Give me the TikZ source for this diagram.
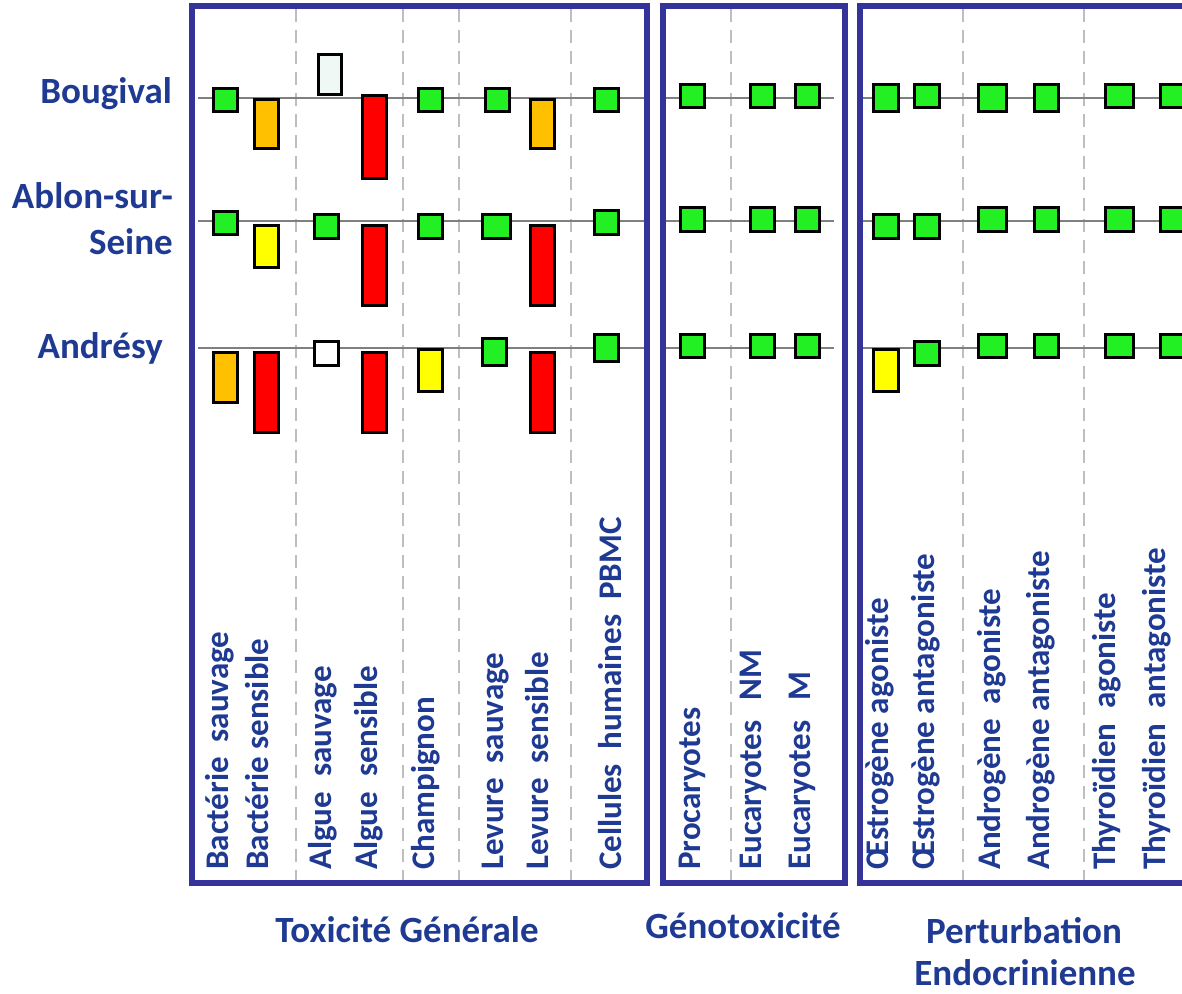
\documentclass[tikz,border=0pt]{standalone}
\usepackage{fontspec}
\setmainfont{Carlito}
\definecolor{boxblue}{RGB}{51,51,153}
\definecolor{textblue}{RGB}{31,58,147}
\definecolor{sepgray}{RGB}{190,190,190}
\definecolor{rowgray}{RGB}{128,128,128}
\definecolor{cgreen}{RGB}{34,240,34}
\definecolor{corange}{RGB}{255,192,0}
\definecolor{cyellow}{RGB}{255,255,0}
\definecolor{cred}{RGB}{255,0,0}
\definecolor{cpale}{RGB}{240,248,246}
\newcommand\cellnode[6]{\node[cellbox, fill=#6, minimum width=#5-3, minimum height=#4-#3-3] (#1) at (#2,{(#3+#4)/2}) {};}
\begin{document}
\begin{tikzpicture}[x=1pt,y=-1pt,
  frame/.style={draw=boxblue, line width=6pt},
  sepline/.style={draw=sepgray, line width=2.2pt, dash pattern=on 13pt off 8pt},
  rowline/.style={draw=rowgray, line width=2pt},
  cellbox/.style={draw=black, line width=3pt, inner sep=0pt, outer sep=0pt, rectangle},
  collab/.style={rotate=90, anchor=base west, text=textblue, inner sep=0pt, font=\fontsize{33}{40}\selectfont\bfseries},
  rowlab/.style={anchor=base east, text=textblue, inner sep=0pt, font=\fontsize{37}{44}\selectfont\bfseries},
  grouplab/.style={anchor=base, text=textblue, inner sep=0pt, font=\fontsize{37}{44}\selectfont\bfseries}]
\useasboundingbox (0,0) rectangle (1182,993);
\clip (0,0) rectangle (1182,993);
\fill[white] (0,0) rectangle (1182,993);

% dashed separators
\foreach \xx/\nm in {296/s1,403/s2,459/s3,571/s4,731/s5,963/s6,1084/s7}{
  \coordinate (\nm t) at (\xx,9);
  \coordinate (\nm b) at (\xx,880);
  \draw[sepline] (\nm t) -- (\nm b);
}

% row lines
\foreach \yy/\r in {98/1,221/2,348/3}{
  \coordinate (aL\r) at (198,\yy); \coordinate (aR\r) at (646,\yy);
  \coordinate (bL\r) at (662,\yy); \coordinate (bR\r) at (834,\yy);
  \coordinate (cL\r) at (862,\yy); \coordinate (cR\r) at (1182,\yy);
  \draw[rowline] (aL\r) -- (aR\r);
  \draw[rowline] (bL\r) -- (bR\r);
  \draw[rowline] (cL\r) -- (cR\r);
}

% frames
\coordinate (f1a) at (192,6); \coordinate (f1b) at (647,883);
\coordinate (f2a) at (662.5,6); \coordinate (f2b) at (844.5,883);
\coordinate (f3a) at (860,6); \coordinate (f3b) at (1200,883);
\draw[frame] (f1a) rectangle (f1b);
\draw[frame] (f2a) rectangle (f2b);
\draw[frame] (f3a) rectangle (f3b);

% Box 1, row 1
\cellnode{a11}{225.7}{87}{113}{27}{cgreen}
\cellnode{a21}{266.7}{98}{150}{26.5}{corange}
\cellnode{a31}{330}{53}{96}{26.5}{cpale}
\cellnode{a41}{374.8}{94}{180}{27}{cred}
\cellnode{a51}{430.8}{87}{113}{27}{cgreen}
\cellnode{a61}{497.7}{87}{113}{27}{cgreen}
\cellnode{a71}{542.7}{98}{150}{27}{corange}
\cellnode{a81}{606}{87}{113}{27}{cgreen}
% Box 1, row 2
\cellnode{a12}{225.7}{210}{236}{27}{cgreen}
\cellnode{a22}{266.7}{224}{269}{26.5}{cyellow}
\cellnode{a32}{326.7}{213}{240}{27}{cgreen}
\cellnode{a42}{374.8}{224}{307}{27}{cred}
\cellnode{a52}{430.8}{213}{240}{27}{cgreen}
\cellnode{a62}{496.3}{213}{240}{31}{cgreen}
\cellnode{a72}{542.7}{224}{307}{27}{cred}
\cellnode{a82}{606}{209}{236}{27}{cgreen}
% Box 1, row 3
\cellnode{a13}{225.7}{351}{404}{27}{corange}
\cellnode{a23}{266.7}{351}{434}{26.5}{cred}
\cellnode{a33}{326.7}{340}{367}{27}{white}
\cellnode{a43}{374.8}{351}{434}{27}{cred}
\cellnode{a53}{430.8}{348}{393}{27}{cyellow}
\cellnode{a63}{494.3}{337}{367}{27}{cgreen}
\cellnode{a73}{542.7}{351}{434}{27}{cred}
\cellnode{a83}{606}{333}{363}{27}{cgreen}

% Box 2
\foreach \xx/\c in {692/1,762.6/2,807.6/3}{
  \cellnode{b\c1}{\xx}{83}{109}{27}{cgreen}
  \cellnode{b\c2}{\xx}{206}{233}{27}{cgreen}
  \cellnode{b\c3}{\xx}{333}{359}{27}{cgreen}
}

% Box 3
\cellnode{c11}{886}{83}{113}{27.5}{cgreen}
\cellnode{c12}{886}{213}{240}{27.5}{cgreen}
\cellnode{c13}{886}{348}{393}{27.5}{cyellow}
\cellnode{c21}{927}{83}{109}{27.5}{cgreen}
\cellnode{c22}{927}{213}{240}{27.5}{cgreen}
\cellnode{c23}{927}{340}{367}{27.5}{cgreen}
\cellnode{c31}{992}{83}{113}{31}{cgreen}
\cellnode{c32}{992}{206}{233}{31}{cgreen}
\cellnode{c33}{992}{333}{359}{31}{cgreen}
\cellnode{c41}{1046}{83}{113}{27}{cgreen}
\cellnode{c42}{1046}{206}{233}{27}{cgreen}
\cellnode{c43}{1046}{333}{359}{27}{cgreen}
\cellnode{c51}{1119}{83}{109}{31}{cgreen}
\cellnode{c52}{1119}{206}{233}{31}{cgreen}
\cellnode{c53}{1119}{333}{359}{31}{cgreen}
\cellnode{c61}{1174.5}{83}{109}{31}{cgreen}
\cellnode{c62}{1174.5}{206}{233}{31}{cgreen}
\cellnode{c63}{1174.5}{333}{359}{31}{cgreen}

% row labels
\node[rowlab] (lbou) at (172,103) {Bougival};
\node[rowlab] (labl1) at (173,208) {Ablon-sur-};
\node[rowlab] (labl2) at (173,254) {Seine};
\node[rowlab] (land) at (163,358) {Andrésy};

% column labels
\node[collab] (t1) at (228,870) {Bactérie\ \ sauvage};
\node[collab] (t2) at (268,870) {Bactérie sensible};
\node[collab] (t3) at (331,870) {Algue\ \ sauvage};
\node[collab] (t4) at (377,870) {Algue\ \ sensible};
\node[collab] (t5) at (434,870) {Champignon};
\node[collab] (t6) at (503,870) {Levure\ \ sauvage};
\node[collab] (t7) at (548,870) {Levure\ \ sensible};
\node[collab] (t8) at (621,870) {Cellules\ \ humaines\ \ PBMC};
\node[collab] (g1) at (700,870) {Procaryotes};
\node[collab] (g2) at (761,870) {Eucaryotes\hspace{20pt}NM};
\node[collab] (g3) at (810,870) {Eucaryotes\hspace{20pt}M};
\node[collab] (e1) at (888,870) {Œstrogène agoniste};
\node[collab] (e2) at (934,870) {Œstrogène antagoniste};
\node[collab] (e3) at (1000,870) {Androgène\ \ agoniste};
\node[collab] (e4) at (1049,870) {Androgène antagoniste};
\node[collab] (e5) at (1115,870) {Thyroïdien\ \ agoniste};
\node[collab] (e6) at (1165,870) {Thyroïdien\ \ antagoniste};

% group labels
\node[grouplab] (gtox) at (407,942) {Toxicité Générale};
\node[grouplab] (ggen) at (743,938) {Génotoxicité};
\node[grouplab] (gper1) at (1024,943) {Perturbation};
\node[grouplab] (gper2) at (1025,985) {Endocrinienne};
\end{tikzpicture}
\end{document}
